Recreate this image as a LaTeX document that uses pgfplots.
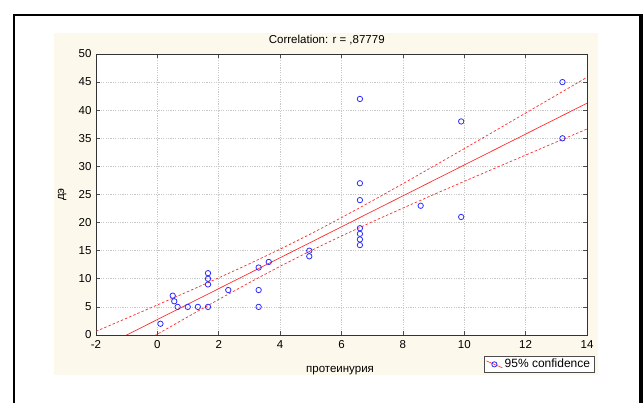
\documentclass[border=0pt]{standalone}
\usepackage{fontspec}
\setmainfont{Liberation Sans}
\usepackage{pgfplots}
\pgfplotsset{compat=1.18}
\definecolor{panel}{RGB}{253,248,236}
\definecolor{ptblue}{RGB}{45,45,255}
\definecolor{fitred}{RGB}{255,45,45}
\definecolor{gridgray}{RGB}{200,200,200}

% 95% confidence band of the regression line
\pgfplotstableread{
x     lo      hi
-2   -6.15    0.65
-1   -2.99    2.99
 0    0.15    5.35
 1    3.26    7.74
 2    6.33   10.17
 3    9.33   12.67
 4   12.23   15.27
 5   15.00   18.00
 6   17.62   20.88
 7   20.14   23.86
 8   22.58   26.92
 9   24.98   30.03
10   27.34   33.16
11   29.68   36.32
12   32.01   39.49
13   34.34   42.67
14   36.65   45.85
}\bandtable

\begin{document}
\begin{tikzpicture}
\useasboundingbox (0pt,0pt) rectangle (643pt,403pt);
% page frame and panel
\fill[panel] (54pt,28pt) rectangle (598pt,370pt);
\draw[line width=2.5pt] (14pt,-1pt) -- (14pt,388pt) -- (640pt,388pt);
\fill (639pt,-1pt) rectangle (643pt,389.25pt);

\begin{axis}[
  at={(96pt,68pt)}, anchor=south west,
  scale only axis, width=491pt, height=281pt,
  xmin=-2, xmax=14, ymin=0, ymax=50,
  xtick={-2,0,...,14}, ytick={0,5,...,50},
  axis background/.style={fill=white},
  axis line style={draw=black!80, line width=0.8pt},
  tick align=inside, major tick length=4pt,
  tick style={draw=black!70, line width=0.6pt},
  grid=major,
  major grid style={draw=gridgray, dash pattern=on 1.2pt off 1.2pt, line width=0.6pt},
  /pgf/number format/assume math mode=true,
  tick label style={font=\fontsize{11.5}{13}\selectfont},
  yticklabel style={xshift=-1pt},
  xticklabel style={yshift=-2pt},
  label style={font=\fontsize{11.5}{13}\selectfont},
  title style={font=\fontsize{11.5}{13}\selectfont},
  title={Correlation: r = ,87779},
  title style={at={(axis description cs:0.470,1.028)}, anchor=center},
  xlabel={протеинурия},
  xlabel style={at={(axis description cs:0.497,-0.125)}, anchor=center},
  ylabel={дэ},
  ylabel style={at={(axis description cs:-0.069,0.5)}, anchor=center},
  legend style={at={(axis description cs:0.790,-0.075)}, anchor=north west,
    draw=black!70, fill=white, font=\fontsize{12}{13}\selectfont,
    inner xsep=2pt, inner ysep=1pt, row sep=0pt},
  legend cell align=left,
  legend image code/.code={
    \draw[fitred, line width=0.6pt] (0pt,3.5pt) -- (16pt,-3.5pt);
    \draw[ptblue, line width=0.8pt] (8pt,0pt) circle (2.6pt);
  },
]
% observations
\addplot[only marks, mark=o, mark size=2.7pt, ptblue, mark options={line width=0.8pt}]
  coordinates {
  (0.10,2) (0.50,7) (0.55,6) (0.66,5) (0.99,5) (1.32,5)
  (1.65,5) (1.65,9) (1.65,10) (1.65,11) (2.31,8)
  (3.30,5) (3.30,8) (3.30,12) (3.63,13) (4.95,14) (4.95,15)
  (6.60,16) (6.60,17) (6.60,18) (6.60,19) (6.60,24) (6.60,27) (6.60,42)
  (8.58,23) (9.90,21) (9.90,38) (13.20,35) (13.20,45)
  };
\addlegendentry{95\% confidence}
% fitted line
\addplot[fitred, line width=0.7pt, forget plot] coordinates {(-2,-2.75) (14,41.25)};
% confidence limits
\addplot[fitred, line width=0.7pt, dash pattern=on 2.5pt off 2pt, forget plot]
  table[x=x, y=hi] {\bandtable};
\addplot[fitred, line width=0.7pt, dash pattern=on 2.5pt off 2pt, forget plot]
  table[x=x, y=lo] {\bandtable};
\end{axis}
\end{tikzpicture}
\end{document}
